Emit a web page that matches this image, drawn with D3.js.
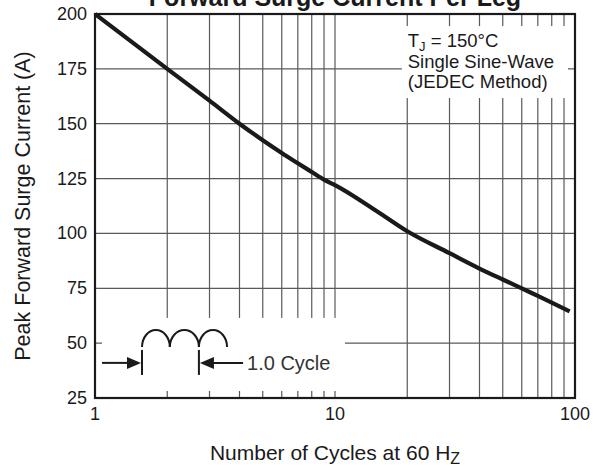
<!DOCTYPE html>
<html>
<head>
<meta charset="utf-8">
<script src="https://cdn.jsdelivr.net/npm/d3@7"></script>
<style>
  body { margin: 0; background: #fff; }
  svg { display: block; }
  text { font-family: "Liberation Sans", Arial, sans-serif; fill: #1a1a1a; }
</style>
</head>
<body>
<div id="chart"></div>
<script>
// curve (cycles at 60 Hz vs peak surge current, A)
var cycles = [1, 2, 3, 4, 5, 6, 7, 8, 9, 10, 15, 20, 30, 40, 50, 60, 70, 80, 95];
var surge  = [200, 175, 160.5, 150, 142.5, 136.7, 132, 128, 124.5, 122, 110, 101, 91, 84, 79, 75, 71.5, 68.5, 64.5];

var yTicks = [25, 50, 75, 100, 125, 150, 175, 200];
var xLabelTicks = [1, 10, 100];
var xGridTicks = [2, 3, 4, 5, 6, 7, 8, 9, 10, 20, 30, 40, 50, 60, 70, 80, 90];

var legendLines = ["Single Sine-Wave", "(JEDEC Method)"];

var W = 593, H = 468;
var margin = {top: 14, right: 18, bottom: 70, left: 95},
    width = W - margin.left - margin.right,
    height = H - margin.top - margin.bottom;

var svg = d3.select("#chart")
  .append("svg")
    .attr("width", W)
    .attr("height", H);

var g = svg.append("g")
    .attr("transform", "translate(" + margin.left + "," + margin.top + ")");

var x = d3.scaleLog()
  .domain([1, 100])
  .range([0, width]);

var y = d3.scaleLinear()
  .domain([25, 200])
  .range([height, 0]);

// grid lines
g.append("g")
  .selectAll("line")
  .data(xGridTicks)
  .enter()
  .append("line")
    .attr("x1", function(d) { return x(d); })
    .attr("x2", function(d) { return x(d); })
    .attr("y1", 0)
    .attr("y2", height)
    .attr("stroke", "#5a5a5a")
    .attr("stroke-width", 1.2);

g.append("g")
  .selectAll("line")
  .data(yTicks.slice(1, -1))
  .enter()
  .append("line")
    .attr("x1", 0)
    .attr("x2", width)
    .attr("y1", function(d) { return y(d); })
    .attr("y2", function(d) { return y(d); })
    .attr("stroke", "#5a5a5a")
    .attr("stroke-width", 1.2);

// white boxes that hide the grid (legend + inset)
g.append("rect")
  .attr("x", x(19)).attr("y", y(194.5))
  .attr("width", x(93.5) - x(19)).attr("height", y(161.7) - y(194.5))
  .attr("fill", "#fff");

g.append("rect")
  .attr("x", x(1.07)).attr("y", y(61.5))
  .attr("width", x(11) - x(1.07)).attr("height", y(28.2) - y(61.5))
  .attr("fill", "#fff");

// frame
g.append("rect")
  .attr("x", 0).attr("y", 0)
  .attr("width", width).attr("height", height)
  .attr("fill", "none")
  .attr("stroke", "#1a1a1a")
  .attr("stroke-width", 2.2);

// tick labels
g.append("g")
  .selectAll("text")
  .data(yTicks)
  .enter()
  .append("text")
    .attr("x", -8)
    .attr("y", function(d) { return y(d) + 6; })
    .attr("text-anchor", "end")
    .style("font-size", "18px")
    .text(function(d) { return d; });

g.append("g")
  .selectAll("text")
  .data(xLabelTicks)
  .enter()
  .append("text")
    .attr("x", function(d) { return x(d); })
    .attr("y", height + 22)
    .attr("text-anchor", "middle")
    .style("font-size", "18px")
    .text(function(d) { return d; });

// the curve
var line = d3.line()
  .curve(d3.curveMonotoneX)
  .x(function(d, i) { return x(cycles[i]); })
  .y(function(d) { return y(d); });

g.append("path")
  .datum(surge)
  .attr("fill", "none")
  .attr("stroke", "#1a1a1a")
  .attr("stroke-width", 4.2)
  .attr("d", line);

// legend text
var lg = g.append("text")
  .attr("x", x(20.1))
  .attr("y", y(185))
  .style("font-size", "18.5px");
lg.append("tspan").text("T");
lg.append("tspan").attr("dy", 4).style("font-size", "13px").text("J");
lg.append("tspan").attr("dy", -4).text(" = 150°C");

g.append("g")
  .selectAll("text")
  .data(legendLines)
  .enter()
  .append("text")
    .attr("x", x(20.1))
    .attr("y", function(d, i) { return y(185) + 21 + i * 20; })
    .style("font-size", "18.5px")
    .text(function(d) { return d; });

// inset: three half waves and the 1.0 cycle marker
var hx = [1.57, 2.05, 2.71, 3.55];
var baseY = y(48.2);
var topY = y(56);
var inset = g.append("g");
for (var i = 0; i < 3; i++) {
  var a = x(hx[i]), b = x(hx[i + 1]);
  var rx = (b - a) / 2, ry = baseY - topY;
  inset.append("path")
    .attr("d", "M" + a + "," + baseY + " A" + rx + "," + ry + " 0 0 1 " + b + "," + baseY)
    .attr("fill", "none")
    .attr("stroke", "#1a1a1a")
    .attr("stroke-width", 2);
}
[hx[0], hx[2]].forEach(function(v) {
  inset.append("line")
    .attr("x1", x(v)).attr("x2", x(v))
    .attr("y1", y(46.9)).attr("y2", y(35.5))
    .attr("stroke", "#1a1a1a")
    .attr("stroke-width", 2);
});
var arrowY = y(41);
inset.append("line")
  .attr("x1", x(1.07)).attr("x2", x(hx[0]) - 10)
  .attr("y1", arrowY).attr("y2", arrowY)
  .attr("stroke", "#1a1a1a").attr("stroke-width", 2);
inset.append("path")
  .attr("d", "M" + (x(hx[0]) - 1) + "," + arrowY + " l-14,-6 l0,12 z")
  .attr("fill", "#1a1a1a");
inset.append("line")
  .attr("x1", x(hx[2]) + 10).attr("x2", x(4.14))
  .attr("y1", arrowY).attr("y2", arrowY)
  .attr("stroke", "#1a1a1a").attr("stroke-width", 2);
inset.append("path")
  .attr("d", "M" + (x(hx[2]) + 1) + "," + arrowY + " l14,-6 l0,12 z")
  .attr("fill", "#1a1a1a");
inset.append("text")
  .attr("x", x(4.3))
  .attr("y", arrowY + 7)
  .style("font-size", "20px")
  .style("fill", "#333")
  .text("1.0 Cycle");

// title (cut off at the top like the reference)
svg.append("text")
  .attr("x", margin.left + width / 2)
  .attr("y", 6)
  .attr("text-anchor", "middle")
  .style("font-size", "25px")
  .style("font-weight", "bold")
  .text("Forward Surge Current Per Leg");

// axis titles
var xt = svg.append("text")
  .attr("x", margin.left + width / 2)
  .attr("y", 460)
  .attr("text-anchor", "middle")
  .style("font-size", "21px");
xt.append("tspan").text("Number of Cycles at 60 H");
xt.append("tspan").attr("dy", 4).style("font-size", "16px").text("Z");

svg.append("text")
  .attr("transform", "translate(30," + (margin.top + height / 2) + ") rotate(-90)")
  .attr("text-anchor", "middle")
  .style("font-size", "21.5px")
  .text("Peak Forward Surge Current (A)");
</script>
</body>
</html>
